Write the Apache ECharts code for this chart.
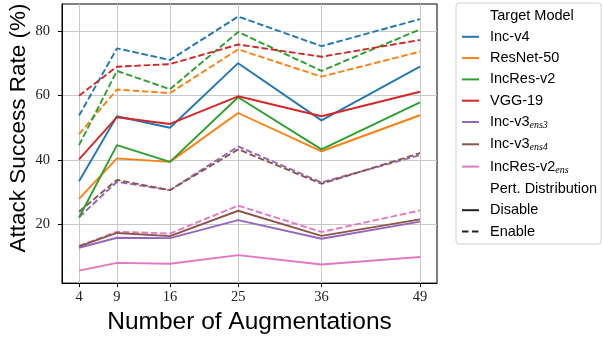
<!DOCTYPE html>
<html><head><meta charset="utf-8">
<script src="https://cdn.jsdelivr.net/npm/echarts@6/dist/echarts.min.js"></script>
<style>html,body{margin:0;padding:0;background:#fff}#c{width:603px;height:340px}</style>
</head><body><div id="c"></div>
<script>
// ---- data ----
const xValues = [4, 9, 16, 25, 36, 49];
const yTicks = [20, 40, 60, 80];
const models = ['Inc-v4', 'ResNet-50', 'IncRes-v2', 'VGG-19', 'Inc-v3_ens3', 'Inc-v3_ens4', 'IncRes-v2_ens'];
const disableIncV4      = [33.4, 53.6, 50.0, 70.1, 52.3, 69.0];
const enableIncV4       = [53.8, 74.7, 71.1, 84.6, 75.4, 83.8];
const disableResNet50   = [27.9, 40.5, 39.4, 54.6, 42.7, 53.9];
const enableResNet50    = [48.0, 61.9, 60.8, 74.4, 65.9, 73.7];
const disableIncResV2   = [22.1, 44.6, 39.4, 59.5, 43.3, 57.9];
const enableIncResV2    = [44.6, 67.7, 62.0, 79.8, 67.7, 80.6];
const disableVGG19      = [40.2, 53.3, 51.2, 59.8, 53.6, 61.2];
const enableVGG19       = [60.0, 69.0, 69.8, 75.9, 72.1, 77.3];
const disableIncV3ens3  = [12.7, 15.8, 15.7, 21.3, 15.5, 20.8];
const enableIncV3ens3   = [22.2, 33.2, 30.6, 44.2, 33.0, 41.5];
const disableIncV3ens4  = [13.1, 17.3, 16.3, 24.2, 16.4, 21.5];
const enableIncV3ens4   = [23.9, 33.8, 30.6, 43.3, 32.6, 42.1];
const disableIncResV2ens = [5.6, 8.0, 7.7, 10.4, 7.5, 9.8];
const enableIncResV2ens  = [13.3, 17.7, 17.1, 25.8, 17.6, 24.3];
const legendHeaders = ['Target Model', 'Pert. Distribution'];
const distNames = ['Disable', 'Enable'];

const disableData = [disableIncV4, disableResNet50, disableIncResV2, disableVGG19, disableIncV3ens3, disableIncV3ens4, disableIncResV2ens];
const enableData = [enableIncV4, enableResNet50, enableIncResV2, enableVGG19, enableIncV3ens3, enableIncV3ens4, enableIncResV2ens];

// ---- style ----
const colors = ['#1f77b4', '#ff7f0e', '#2ca02c', '#d62728', '#9467bd', '#8c564b', '#e377c2'];
const DASH = [6.5, 2.8];
const LW = 1.9;

const series = [];
models.forEach((m, i) => {
  series.push({
    name: m, type: 'line', symbol: 'none', color: colors[i], z: 3,
    lineStyle: { color: colors[i], width: LW, type: 'solid' },
    data: xValues.map((x, j) => [x, disableData[i][j]])
  });
});
models.forEach((m, i) => {
  series.push({
    name: m, type: 'line', symbol: 'none', color: colors[i], z: 2,
    lineStyle: { color: colors[i], width: LW, type: DASH },
    data: xValues.map((x, j) => [x, enableData[i][j]])
  });
});
legendHeaders.forEach(h => {
  series.push({ name: h, type: 'line', symbol: 'none', data: [], color: 'rgba(0,0,0,0)',
    lineStyle: { color: 'rgba(0,0,0,0)', width: 0 } });
});
series.push({ name: distNames[0], type: 'line', symbol: 'none', data: [], color: '#222',
  lineStyle: { color: '#222', width: LW, type: 'solid' } });
series.push({ name: distNames[1], type: 'line', symbol: 'none', data: [], color: '#222',
  lineStyle: { color: '#222', width: LW, type: [6.5, 3.5] } });

const legendData = [legendHeaders[0]].concat(models, [legendHeaders[1]], distNames);

const chart = echarts.init(document.getElementById('c'), null, { renderer: 'canvas' });
chart.setOption({
  animation: false,
  backgroundColor: '#fff',
  grid: { left: 62, top: 4, width: 375, height: 280, show: true, borderColor: '#000', borderWidth: 1, backgroundColor: 'transparent', containLabel: false },
  xAxis: {
    type: 'value', min: 1.75, max: 51.25,
    name: 'Number of Augmentations', nameLocation: 'middle', nameGap: 26,
    nameTextStyle: { fontFamily: 'Liberation Sans', fontSize: 24.5, color: '#000' },
    axisLine: { show: true, onZero: false, lineStyle: { color: '#000', width: 1 } },
    axisTick: { show: true, length: 4, lineStyle: { color: '#000' }, customValues: xValues },
    axisLabel: { customValues: xValues, margin: 7, fontFamily: 'Liberation Serif', fontSize: 14.5, color: '#222' },
    splitLine: { show: true, lineStyle: { color: '#c8c8c8', width: 1 } }
  },
  yAxis: {
    type: 'value', min: 1.7, max: 88.5,
    axisLine: { show: true, onZero: false, lineStyle: { color: '#000', width: 1 } },
    axisTick: { show: true, length: 4, lineStyle: { color: '#000' }, customValues: yTicks },
    axisLabel: { customValues: yTicks, margin: 12, fontFamily: 'Liberation Serif', fontSize: 14.5, color: '#222' },
    splitLine: { show: true, lineStyle: { color: '#c8c8c8', width: 1 } }
  },
  legend: {
    data: legendData, orient: 'vertical', left: 456, top: 3,
    padding: [5, 4, 5, 5], itemWidth: 17, itemHeight: 18, itemGap: 6.3,
    backgroundColor: '#fff', borderColor: '#d0d0d0', borderWidth: 1, borderRadius: 3,
    selectedMode: false,
    itemStyle: { opacity: 0 },
    formatter: function (name) {
      const k = name.indexOf('_');
      if (k < 0) return '{b|' + name + '}';
      return '{b|' + name.slice(0, k) + '}{s|' + name.slice(k + 1) + '}';
    },
    textStyle: {
      fontFamily: 'Liberation Sans', fontSize: 14.5, color: '#000', padding: [0, 0, 0, 6],
      rich: {
        b: { fontFamily: 'Liberation Sans', fontSize: 14.5, color: '#000' },
        s: { fontFamily: 'Liberation Serif', fontStyle: 'italic', fontSize: 10, color: '#000', padding: [7, 0, 0, 0] }
      }
    }
  },
  graphic: [{
    type: 'text', x: 19, y: 128, rotation: Math.PI / 2,
    style: { text: 'Attack Success Rate (%)', fontFamily: 'Liberation Sans', fontSize: 22.5, fill: '#000', align: 'center', verticalAlign: 'middle' }
  }],
  series: series
});
</script></body></html>
